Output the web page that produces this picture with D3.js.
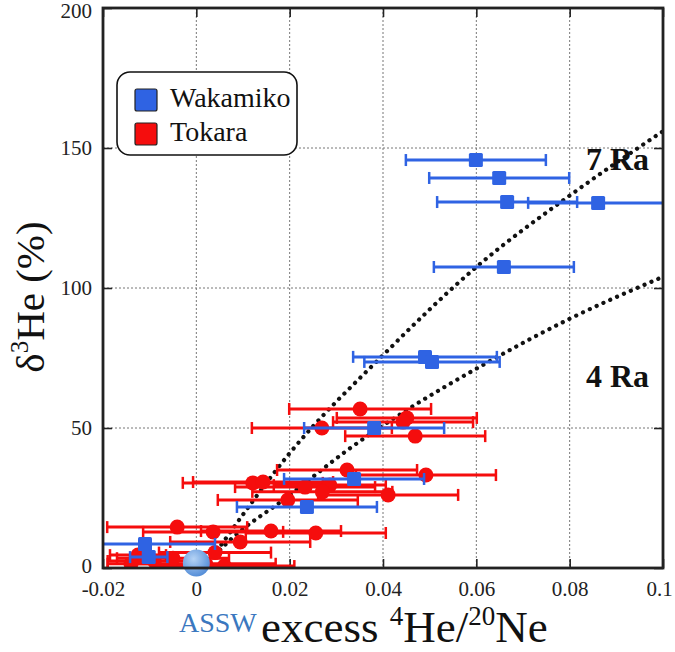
<!DOCTYPE html>
<html><head><meta charset="utf-8">
<script src="https://cdn.jsdelivr.net/npm/d3@7"></script>
<style>
body{margin:0;background:#fff}
svg{display:block}
svg text{font-family:"Liberation Serif","DejaVu Serif","Times New Roman",serif !important}
</style></head>
<body>
<script>
// ---- data ----
const xTicks = [-0.02, 0, 0.02, 0.04, 0.06, 0.08, 0.1];
const xTickLabels = ["-0.02", "0", "0.02", "0.04", "0.06", "0.08", "0.1"];
const yTicks = [0, 50, 100, 150, 200];
const yTickLabels = ["0", "50", "100", "150", "200"];

const wakamikoX   = [0.0599, 0.0649, 0.0666, 0.0861, 0.0659, 0.0490, 0.0505, 0.0381, 0.0338, 0.0237, -0.0110, -0.0102];
const wakamikoY   = [145.7, 139.3, 130.7, 130.4, 107.5, 75.4, 73.6, 50.0, 31.8, 21.8, 8.6, 3.9];
const wakamikoErr = [0.015, 0.015, 0.015, 0.015, 0.015, 0.0154, 0.0145, 0.015, 0.015, 0.015, 0.015, 0.004];

const tokaraX   = [0.0351, 0.0451, 0.0443, 0.0269, 0.0469, 0.0323, 0.0492, 0.0121, 0.0143, 0.0233, 0.0286, 0.0411, 0.0196, 0.0270,
                   -0.0041, 0.0036, 0.0160, 0.0256, 0.0094, -0.0125, -0.0090, -0.0050, 0.0020, 0.0060, -0.0140, 0.0040];
const tokaraY   = [56.8, 53.6, 52.1, 50.0, 47.1, 35.0, 33.2, 30.4, 30.7, 28.9, 29.6, 26.1, 24.3, 27.2,
                   14.6, 12.9, 13.2, 12.5, 9.3, 4.6, 2.5, 3.5, 1.5, 0.7, 1.5, 5.5];
const tokaraErr = [0.0152, 0.015, 0.015, 0.015, 0.015, 0.015, 0.015, 0.015, 0.015, 0.015, 0.012, 0.015, 0.015, 0.015,
                   0.015, 0.015, 0.015, 0.015, 0.015, 0.006, 0.010, 0.012, 0.015, 0.015, 0.005, 0.012];

const ra7X = [0.0035, 0.005, 0.02, 0.04, 0.06, 0.08, 0.1];
const ra7Y = [4, 7.5, 41, 76, 107.5, 133, 156];
const ra4X = [0.004, 0.0057, 0.02, 0.0323, 0.0451, 0.0614, 0.08, 0.1];
const ra4Y = [4.5, 7.5, 26, 42, 56.4, 72.5, 89, 104];

const asswX = [0];
const asswY = [1.8];

const seriesNames = ["Wakamiko", "Tokara"];
const seriesColors = ["#2f63e3", "#f50d0d"];

// ---- layout ----
const W = 675, H = 652;
const m = {left: 103, top: 8, right: 12, bottom: 84};
const iw = 560, ih = 560;
const SERIF = "Liberation Serif, DejaVu Serif, serif";

const svg = d3.select("body").append("svg").attr("width", W).attr("height", H)
  .attr("font-family", SERIF);

const x = d3.scaleLinear().domain([-0.02, 0.1]).range([0, iw]);
const y = d3.scaleLinear().domain([0, 200]).range([ih, 0]);

const defs = svg.append("defs");
defs.append("clipPath").attr("id", "clip").append("rect").attr("width", iw).attr("height", ih);
const rg = defs.append("radialGradient").attr("id", "asswGrad").attr("cx", "40%").attr("cy", "35%").attr("r", "70%");
rg.append("stop").attr("offset", "0%").attr("stop-color", "#b5d3f5");
rg.append("stop").attr("offset", "100%").attr("stop-color", "#4f8ad6");

const g = svg.append("g").attr("transform", `translate(${m.left},${m.top})`);

// grid
const grid = g.append("g").attr("stroke", "#777").attr("stroke-width", 1).attr("stroke-dasharray", "2,2");
xTicks.slice(1, -1).forEach(t => grid.append("line").attr("x1", x(t)).attr("x2", x(t)).attr("y1", 0).attr("y2", ih));
yTicks.slice(1, -1).forEach(t => grid.append("line").attr("x1", 0).attr("x2", iw).attr("y1", y(t)).attr("y2", y(t)));

// axes (inward ticks, mirrored)
const fmtX = (d, i) => xTickLabels[i];
const fmtY = (d, i) => yTickLabels[i];
const axB = g.append("g").attr("transform", `translate(0,${ih})`)
  .call(d3.axisBottom(x).tickValues(xTicks).tickFormat(fmtX).tickSizeInner(-9).tickSizeOuter(0).tickPadding(13));
const axL = g.append("g")
  .call(d3.axisLeft(y).tickValues(yTicks).tickFormat(fmtY).tickSizeInner(-9).tickSizeOuter(0).tickPadding(11));
const axT = g.append("g")
  .call(d3.axisTop(x).tickValues(xTicks).tickFormat("").tickSizeInner(-9).tickSizeOuter(0));
const axR = g.append("g").attr("transform", `translate(${iw},0)`)
  .call(d3.axisRight(y).tickValues(yTicks).tickFormat("").tickSizeInner(-9).tickSizeOuter(0));
[axB, axL, axT, axR].forEach(a => {
  a.attr("font-family", SERIF);
  a.select(".domain").remove();
  a.selectAll(".tick line").attr("stroke", "#222").attr("stroke-width", 1.6);
  a.selectAll("text").attr("font-family", SERIF).attr("font-size", 21).attr("fill", "#222");
});
axL.selectAll(".tick text").filter(d => d === 200).attr("dy", "0.45em");
axL.selectAll(".tick text").filter(d => d === 0).attr("dy", "0.2em");
axB.selectAll(".tick text").filter(d => d === 0.1).attr("dx", -4);

// reference lines
const lineGen = d3.line().x(d => x(d[0])).y(d => y(d[1])).curve(d3.curveMonotoneX);
const refs = g.append("g").attr("clip-path", "url(#clip)");
[[ra7X, ra7Y], [ra4X, ra4Y]].forEach(([xs, ys]) => {
  refs.append("path").datum(xs.map((v, i) => [v, ys[i]])).attr("d", lineGen)
    .attr("fill", "none").attr("stroke", "#111").attr("stroke-width", 4.2)
    .attr("stroke-linecap", "round").attr("stroke-dasharray", "0.1,7.4");
});

// data series
const dataG = g.append("g").attr("clip-path", "url(#clip)");
function drawSeries(xs, ys, es, color, shape) {
  const pts = xs.map((v, i) => ({x: v, y: ys[i], e: es[i]}));
  const gg = dataG.append("g");
  gg.selectAll("line.bar").data(pts).join("line").attr("class", "bar")
    .attr("x1", d => x(d.x - d.e)).attr("x2", d => x(d.x + d.e))
    .attr("y1", d => y(d.y)).attr("y2", d => y(d.y))
    .attr("stroke", color).attr("stroke-width", 3);
  ["-", "+"].forEach(s => {
    gg.selectAll("line.cap" + (s === "-" ? "l" : "r")).data(pts).join("line")
      .attr("x1", d => x(s === "-" ? d.x - d.e : d.x + d.e)).attr("x2", d => x(s === "-" ? d.x - d.e : d.x + d.e))
      .attr("y1", d => y(d.y) - 6).attr("y2", d => y(d.y) + 6)
      .attr("stroke", color).attr("stroke-width", 2.5);
  });
  if (shape === "square") {
    gg.selectAll("rect.pt").data(pts).join("rect")
      .attr("x", d => x(d.x) - 7).attr("y", d => y(d.y) - 7).attr("width", 14).attr("height", 14)
      .attr("rx", 1.5).attr("fill", color);
  } else {
    gg.selectAll("circle.pt").data(pts).join("circle")
      .attr("cx", d => x(d.x)).attr("cy", d => y(d.y)).attr("r", 7.5).attr("fill", color);
  }
}
drawSeries(tokaraX, tokaraY, tokaraErr, seriesColors[1], "circle");
drawSeries(wakamikoX, wakamikoY, wakamikoErr, seriesColors[0], "square");

// ASSW point
g.selectAll("circle.assw").data(asswX.map((v, i) => [v, asswY[i]])).join("circle")
  .attr("cx", d => x(d[0])).attr("cy", d => y(d[1])).attr("r", 13.5).attr("fill", "url(#asswGrad)");

// frame
g.append("rect").attr("width", iw).attr("height", ih).attr("fill", "none")
  .attr("stroke", "#222").attr("stroke-width", 2.8);

// Ra labels
g.append("text").attr("x", x(0.0835)).attr("y", y(142)).attr("font-size", 32).attr("font-weight", "bold").attr("fill", "#111").text("7 Ra");
g.append("text").attr("x", x(0.0835)).attr("y", y(64.5)).attr("font-size", 32).attr("font-weight", "bold").attr("fill", "#111").text("4 Ra");

// legend
const lg = svg.append("g").attr("transform", "translate(117,72)");
lg.append("rect").attr("width", 180).attr("height", 83).attr("rx", 13).attr("fill", "#fff")
  .attr("stroke", "#111").attr("stroke-width", 1.6);
seriesNames.forEach((n, i) => {
  lg.append("rect").attr("x", 18).attr("y", 17 + i * 34).attr("width", 22).attr("height", 22).attr("rx", 2)
    .attr("fill", seriesColors[i]).attr("stroke", "#222").attr("stroke-width", 1.2);
  lg.append("text").attr("x", 53).attr("y", 35 + i * 34).attr("font-size", 28).attr("fill", "#111").text(n);
});

// axis titles
svg.append("text").attr("x", 179).attr("y", 632).attr("font-size", 28).attr("fill", "#3b78bf").text("ASSW");
const xt = svg.append("text").attr("x", 261).attr("y", 642).attr("font-size", 45).attr("fill", "#111");
xt.append("tspan").text("excess ");
xt.append("tspan").attr("font-size", 27).attr("dy", -17).text("4");
xt.append("tspan").attr("dy", 17).text("He/");
xt.append("tspan").attr("font-size", 27).attr("dy", -17).text("20");
xt.append("tspan").attr("dy", 17).text("Ne");

const yt = svg.append("text").attr("transform", "translate(44,297) rotate(-90)").attr("text-anchor", "middle")
  .attr("font-size", 41).attr("fill", "#111");
yt.append("tspan").text("δ");
yt.append("tspan").attr("font-size", 25).attr("dy", -16).text("3");
yt.append("tspan").attr("dy", 16).text("He (%)");
</script>
</body></html>
